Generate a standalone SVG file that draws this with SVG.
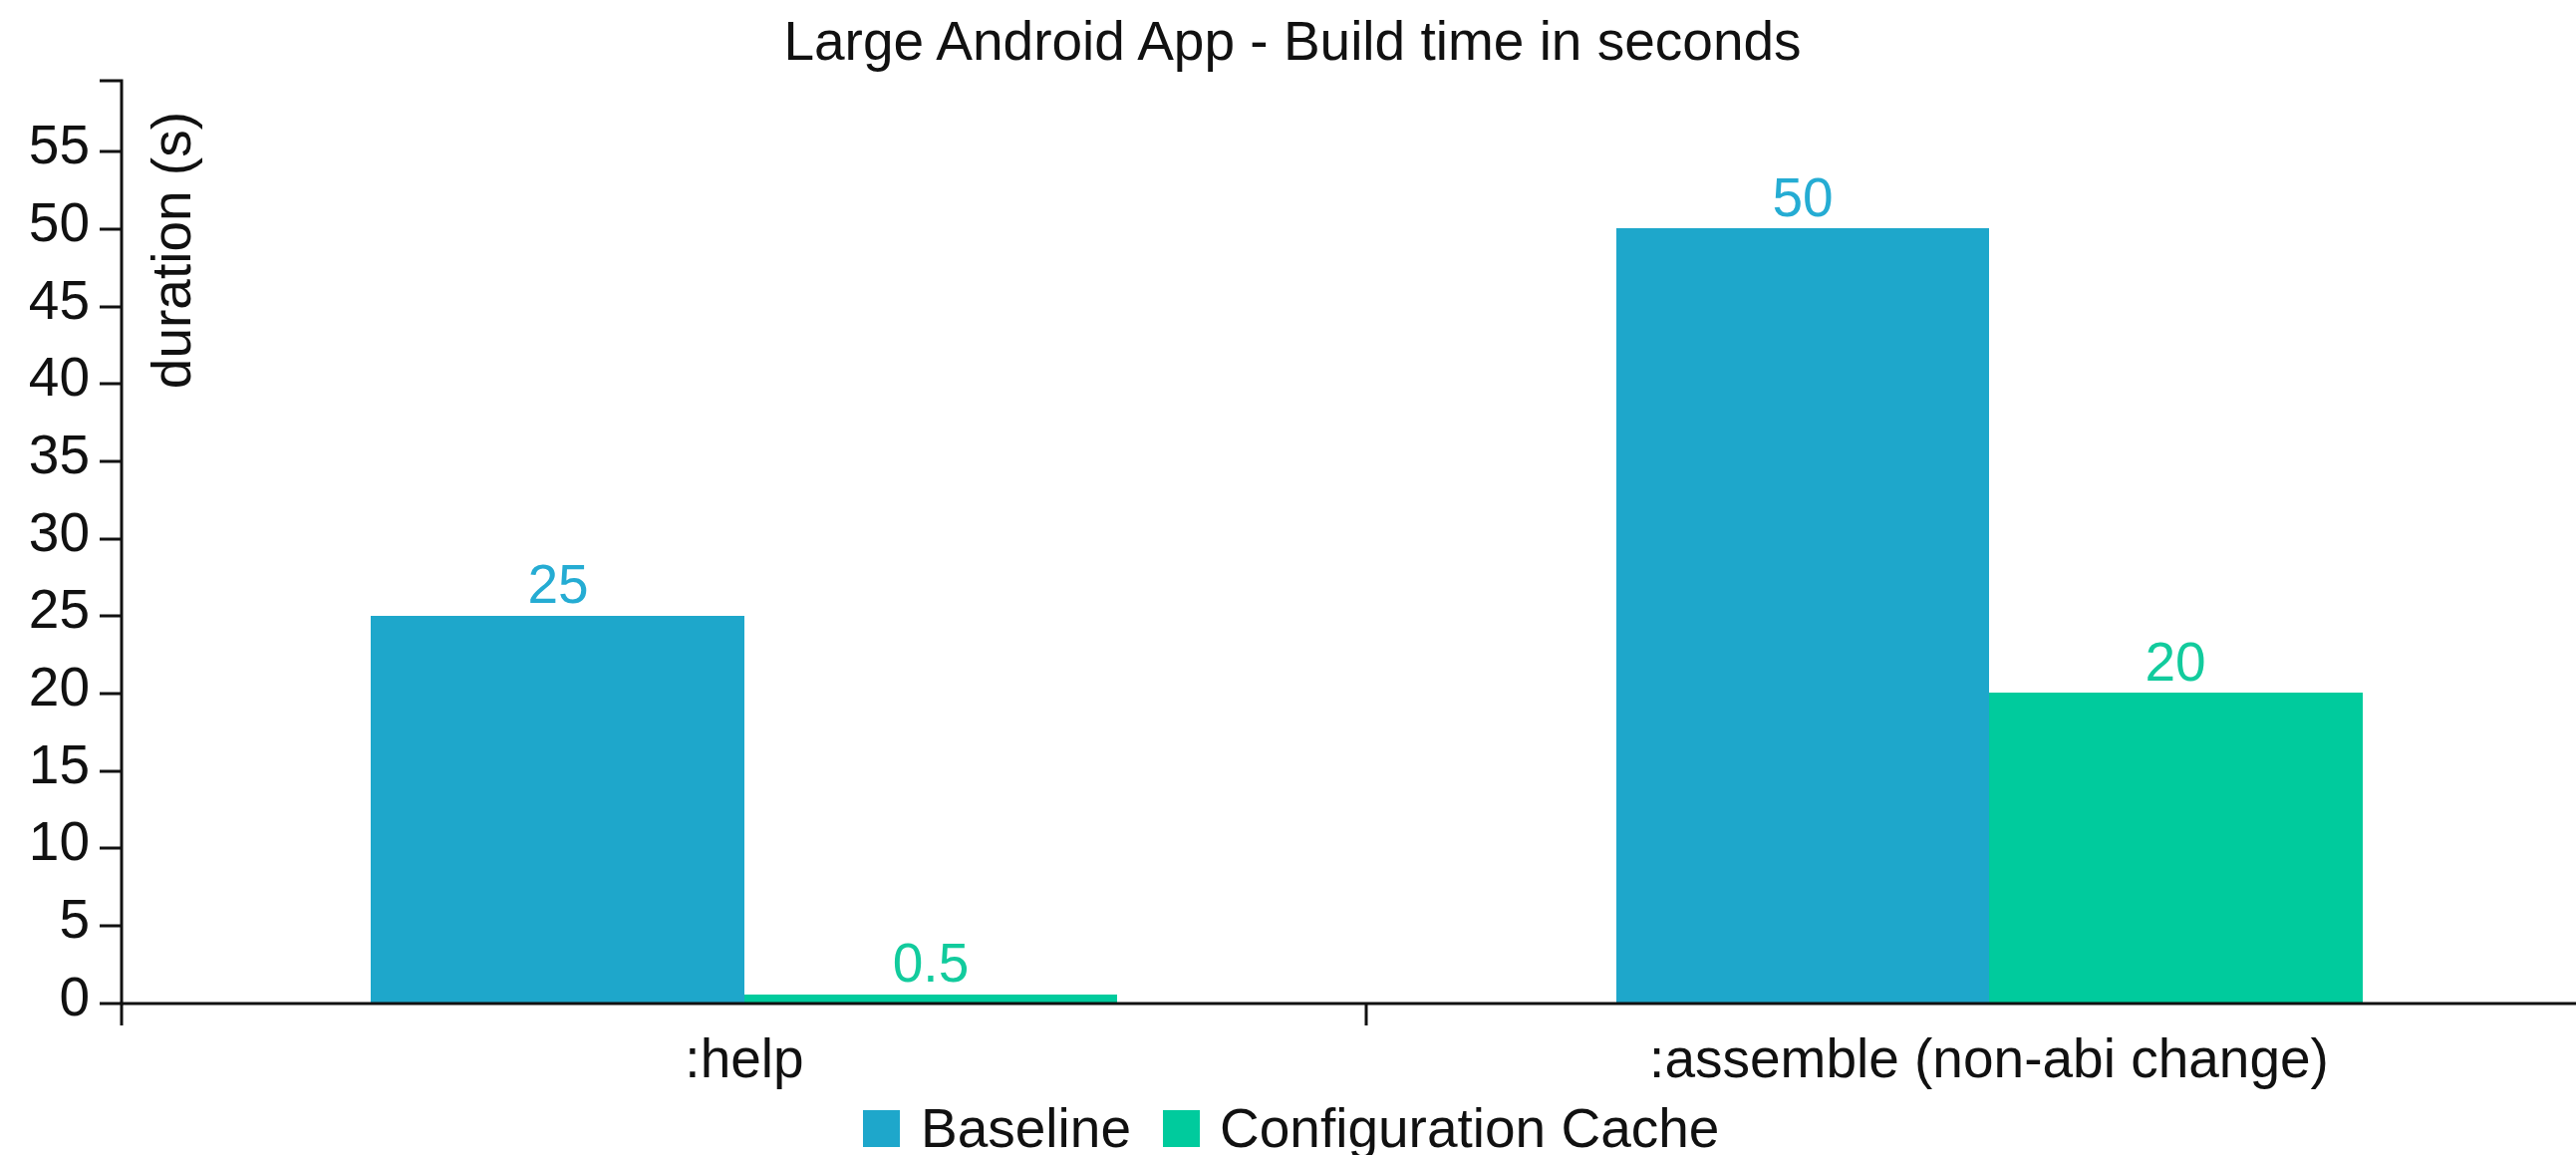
<svg xmlns="http://www.w3.org/2000/svg" width="2585" height="1159" viewBox="0 0 2585 1159">
<style>
text{font-family:"Liberation Sans",Arial,sans-serif;font-size:55px;fill:#111}
.tick{text-anchor:end}
.axis{stroke:#111;stroke-width:3;fill:none}
.base{fill:#1EA7CB}
.cc{fill:#00CB9D}
.lb{fill:#25ACD3;text-anchor:middle}
.lc{fill:#12CB9D;text-anchor:middle}
.mid{text-anchor:middle}
</style>
<rect width="2585" height="1159" fill="#fff"/>
<text id="title" class="mid" x="1297" y="60" font-size="57">Large Android App - Build time in seconds</text>
<g id="bars">
<rect id="help-baseline" class="base" x="372" y="618" width="375" height="389"/>
<rect id="help-cc" class="cc" x="747" y="998" width="374" height="9"/>
<rect id="assemble-baseline" class="base" x="1622" y="229" width="374" height="778"/>
<rect id="assemble-cc" class="cc" x="1996" y="695" width="375" height="312"/>
</g>
<g id="value-labels">
<text class="lb" x="560" y="605">25</text>
<text class="lc" x="934" y="985">0.5</text>
<text class="lb" x="1809" y="217">50</text>
<text class="lc" x="2183" y="683">20</text>
</g>
<g id="y-axis">
<path class="axis" d="M100,81H122V1007H100"/>
<path class="axis" d="M100,929H122M100,851H122M100,774H122M100,696H122M100,618H122M100,541H122M100,463H122M100,385H122M100,308H122M100,230H122M100,152H122"/>
<g class="tick">
<text x="90" y="1019">0</text>
<text x="90" y="941">5</text>
<text x="90" y="863">10</text>
<text x="90" y="786">15</text>
<text x="90" y="708">20</text>
<text x="90" y="630">25</text>
<text x="90" y="553">30</text>
<text x="90" y="475">35</text>
<text x="90" y="397">40</text>
<text x="90" y="320">45</text>
<text x="90" y="242">50</text>
<text x="90" y="164">55</text>
</g>
<text transform="translate(191,112) rotate(-90)" text-anchor="end">duration (s)</text>
</g>
<g id="x-axis">
<path class="axis" stroke-width="3.5" d="M122,1029V1007H2585"/>
<path class="axis" d="M1371,1007V1029"/>
<text class="mid" x="747" y="1081">:help</text>
<text class="mid" x="1996" y="1081">:assemble (non-abi change)</text>
</g>
<g id="legend">
<rect class="base" x="866" y="1114" width="37" height="37"/>
<text x="924" y="1151" font-size="54">Baseline</text>
<rect class="cc" x="1167" y="1114" width="37" height="37"/>
<text x="1224" y="1151" font-size="54">Configuration Cache</text>
</g>
</svg>
